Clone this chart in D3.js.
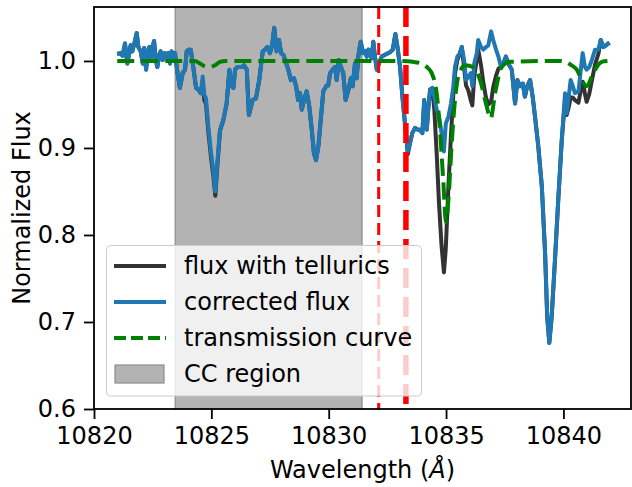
<!DOCTYPE html>
<html>
<head>
<meta charset="utf-8">
<script src="https://cdn.jsdelivr.net/npm/d3@7/dist/d3.min.js"></script>
<style>
  html, body { margin: 0; padding: 0; background: #fff; }
  svg { display: block; font-family: "DejaVu Sans", sans-serif; }
</style>
</head>
<body>
<div id="chart"></div>
<script>
// Spectrum samples (wavelength in Angstrom)
const wave = [
  10820.99, 10821.14, 10821.22, 10821.32, 10821.42, 10821.56, 10821.63, 10821.72, 10821.82, 10821.89,
  10821.99, 10822.08, 10822.14, 10822.22, 10822.29, 10822.36, 10822.42, 10822.48, 10822.56, 10822.63,
  10822.70, 10822.78, 10822.84, 10822.93, 10823.03, 10823.10, 10823.17, 10823.24, 10823.31, 10823.38,
  10823.45, 10823.55, 10823.66, 10823.78, 10823.88, 10823.95, 10824.04, 10824.12, 10824.23, 10824.35,
  10824.44, 10824.55, 10824.63, 10824.70, 10824.77, 10824.87, 10824.99, 10825.08, 10825.17, 10825.25,
  10825.37, 10825.51, 10825.65, 10825.77, 10825.84, 10825.94, 10826.01, 10826.11, 10826.29, 10826.39,
  10826.51, 10826.60, 10826.76, 10826.90, 10827.04, 10827.19, 10827.29, 10827.38, 10827.50, 10827.60,
  10827.68, 10827.78, 10827.88, 10827.97, 10828.07, 10828.17, 10828.28, 10828.39, 10828.52, 10828.61,
  10828.70, 10828.78, 10828.85, 10828.95, 10829.06, 10829.17, 10829.28, 10829.37, 10829.46, 10829.56,
  10829.66, 10829.77, 10829.89, 10829.98, 10830.06, 10830.17, 10830.27, 10830.34, 10830.43, 10830.52,
  10830.62, 10830.72, 10830.84, 10830.94, 10831.02, 10831.12, 10831.19, 10831.26, 10831.36, 10831.47,
  10831.55, 10831.62, 10831.69, 10831.76, 10831.83, 10831.90, 10831.97, 10832.05, 10832.14, 10832.26,
  10832.40, 10832.61, 10832.73, 10832.84, 10832.93, 10833.04, 10833.14, 10833.25, 10833.37, 10833.46,
  10833.56, 10833.68, 10833.79, 10833.89, 10833.99, 10834.07, 10834.18, 10834.24, 10834.32, 10834.41,
  10834.50, 10834.60, 10834.70, 10834.81, 10834.91, 10834.99, 10835.10, 10835.21, 10835.31, 10835.38,
  10835.48, 10835.59, 10835.67, 10835.77, 10835.85, 10835.95, 10836.05, 10836.12, 10836.20, 10836.31,
  10836.37, 10836.49, 10836.59, 10836.70, 10836.80, 10836.92, 10837.01, 10837.13, 10837.23, 10837.34,
  10837.44, 10837.55, 10837.65, 10837.80, 10837.94, 10838.04, 10838.15, 10838.27, 10838.36, 10838.46,
  10838.58, 10838.69, 10838.79, 10838.93, 10839.08, 10839.22, 10839.31, 10839.40, 10839.50, 10839.64,
  10839.78, 10839.93, 10840.07, 10840.14, 10840.21, 10840.31, 10840.40, 10840.49, 10840.64, 10840.71,
  10840.82, 10840.92, 10840.99, 10841.10, 10841.21, 10841.35, 10841.49, 10841.59, 10841.70, 10841.82,
  10841.96
];

// corrected flux (blue)
const fluxCorrected = [
  1.008, 1.009, 1.006, 1.020, 0.997, 1.018, 1.011, 1.020, 1.032, 1.016,
  1.011, 0.997, 1.015, 0.990, 1.009, 1.016, 1.001, 1.013, 1.023, 1.001,
  0.993, 1.007, 1.011, 1.001, 1.009, 1.005, 1.009, 0.997, 1.011, 1.001,
  1.009, 0.988, 0.969, 0.986, 0.990, 1.011, 1.013, 1.013, 0.993, 0.969,
  0.967, 0.963, 0.982, 0.961, 0.957, 0.925, 0.894, 0.875, 0.850, 0.882,
  0.921, 0.932, 0.951, 0.990, 0.972, 0.969, 0.990, 0.993, 0.993, 0.995,
  0.990, 0.938, 0.955, 0.957, 0.978, 1.011, 1.013, 1.016, 1.009, 1.020,
  1.038, 1.011, 1.024, 1.009, 1.007, 0.999, 0.990, 0.978, 0.980, 0.971,
  0.955, 0.963, 0.944, 0.955, 0.965, 0.948, 0.921, 0.894, 0.886, 0.902,
  0.932, 0.965, 0.971, 0.972, 0.986, 0.990, 0.993, 0.978, 1.001, 0.993,
  0.986, 0.955, 0.967, 0.980, 0.971, 0.997, 0.980, 1.005, 1.022, 1.009,
  1.011, 1.005, 1.013, 1.009, 1.003, 1.022, 1.005, 0.990, 0.997, 1.005,
  1.007, 1.010, 1.013, 1.031, 1.016, 0.993, 0.959, 0.928, 0.896, 0.905,
  0.917, 0.923, 0.921, 0.921, 0.917, 0.955, 0.921, 0.944, 0.967, 0.969,
  0.959, 0.944, 0.936, 0.917, 0.896, 0.928, 0.936, 0.951, 0.971, 0.993,
  1.005, 1.009, 1.016, 1.001, 0.978, 0.982, 0.986, 0.971, 0.997, 1.009,
  1.024, 1.016, 1.013, 1.016, 1.018, 1.034, 1.024, 1.013, 1.005, 0.993,
  0.997, 1.005, 0.997, 0.990, 0.951, 0.978, 0.971, 0.974, 0.959, 0.971,
  0.978, 0.959, 0.936, 0.902, 0.856, 0.779, 0.706, 0.676, 0.706, 0.771,
  0.840, 0.909, 0.963, 0.940, 0.955, 0.978, 0.971, 0.963, 0.965, 0.982,
  1.009, 0.993, 0.990, 0.993, 1.001, 1.013, 1.013, 1.024, 1.016, 1.018,
  1.021
];

// flux with tellurics (dark gray), same wavelength grid
const fluxTelluric = [
  1.008, 1.009, 1.006, 1.020, 0.997, 1.018, 1.011, 1.020, 1.032, 1.016,
  1.011, 0.997, 1.015, 0.990, 1.009, 1.016, 1.001, 1.013, 1.023, 1.001,
  0.993, 1.007, 1.011, 1.001, 1.009, 1.005, 1.009, 0.997, 1.011, 1.001,
  1.009, 0.988, 0.969, 0.986, 0.990, 1.011, 1.013, 1.013, 0.993, 0.969,
  0.967, 0.963, 0.976, 0.955, 0.951, 0.919, 0.888, 0.869, 0.845, 0.877,
  0.920, 0.932, 0.951, 0.990, 0.972, 0.969, 0.990, 0.993, 0.993, 0.995,
  0.990, 0.938, 0.955, 0.957, 0.978, 1.011, 1.013, 1.016, 1.009, 1.020,
  1.038, 1.011, 1.024, 1.009, 1.007, 0.999, 0.990, 0.978, 0.980, 0.971,
  0.955, 0.963, 0.944, 0.955, 0.965, 0.948, 0.921, 0.894, 0.886, 0.902,
  0.932, 0.965, 0.971, 0.972, 0.986, 0.990, 0.993, 0.978, 1.001, 0.993,
  0.986, 0.955, 0.967, 0.980, 0.971, 0.997, 0.980, 1.005, 1.022, 1.009,
  1.011, 1.005, 1.013, 1.009, 1.003, 1.022, 1.005, 0.990, 0.997, 1.005,
  1.007, 1.010, 1.013, 1.031, 1.016, 0.993, 0.959, 0.928, 0.893, 0.905,
  0.917, 0.923, 0.921, 0.921, 0.917, 0.955, 0.921, 0.944, 0.967, 0.969,
  0.944, 0.894, 0.836, 0.787, 0.757, 0.785, 0.856, 0.915, 0.962, 0.985,
  1.001, 1.009, 1.016, 0.992, 0.972, 0.966, 0.955, 0.949, 0.982, 1.002,
  1.013, 0.995, 0.975, 0.958, 0.950, 0.953, 0.970, 0.983, 0.991, 0.993,
  0.997, 1.005, 0.997, 0.990, 0.951, 0.978, 0.971, 0.974, 0.959, 0.971,
  0.978, 0.959, 0.936, 0.902, 0.856, 0.779, 0.706, 0.676, 0.706, 0.771,
  0.840, 0.909, 0.955, 0.938, 0.945, 0.958, 0.958, 0.955, 0.952, 0.962,
  0.976, 0.962, 0.953, 0.962, 0.977, 0.996, 1.008, 1.024, 1.016, 1.018,
  1.021
];

// telluric transmission model (green dashed)
const transWave = [
  10820.99, 10824.30, 10824.52, 10824.72, 10824.94, 10825.15, 10825.37, 10825.60,
  10833.00, 10833.59, 10833.93, 10834.18, 10834.39, 10834.53, 10834.60, 10834.74,
  10834.88, 10835.00, 10835.10, 10835.24, 10835.38, 10835.52, 10835.81, 10836.16,
  10836.45, 10836.73, 10836.90, 10837.09, 10837.37, 10837.72, 10839.86, 10840.35,
  10840.57, 10840.78, 10840.99, 10841.21, 10841.42, 10841.63, 10841.91
];
const transFlux = [
  1.000, 1.000, 0.997, 0.994, 0.993, 0.995, 0.999, 1.000,
  1.000, 0.999, 0.997, 0.993, 0.986, 0.974, 0.963, 0.921,
  0.863, 0.815, 0.840, 0.905, 0.955, 0.982, 0.995, 0.993,
  0.978, 0.948, 0.934, 0.963, 0.993, 0.999, 1.000, 0.995,
  0.990, 0.978, 0.971, 0.982, 0.993, 0.999, 1.000
];

// shaded cross-correlation window and the two marked lines
const ccRegion = [10823.46, 10831.42];
const markedLines = [10832.13, 10833.29];

const xTicks = [10820, 10825, 10830, 10835, 10840];
const yTicks = [0.6, 0.7, 0.8, 0.9, 1.0];
const legendLabels = ["flux with tellurics", "corrected flux", "transmission curve", "CC region"];

// Layout
const width = 632, height = 487;
const margin = { top: 7, right: 1, bottom: 78, left: 94 };
const fontSize = 24;
const lineWidth = 4;

const svg = d3.select("#chart").append("svg")
    .attr("width", width)
    .attr("height", height);

// Create scales
const x = d3.scaleLinear()
    .domain([10820, 10842.88])
    .range([margin.left, width - margin.right]);

const y = d3.scaleLinear()
    .domain([0.6, 1.062])
    .range([height - margin.bottom, margin.top]);

svg.append("clipPath").attr("id", "plot-clip")
    .append("rect")
    .attr("x", margin.left).attr("y", margin.top)
    .attr("width", width - margin.left - margin.right)
    .attr("height", height - margin.top - margin.bottom);

const plot = svg.append("g").attr("clip-path", "url(#plot-clip)");

// CC region span
plot.append("rect")
    .attr("x", x(ccRegion[0]))
    .attr("y", margin.top - 2)
    .attr("width", x(ccRegion[1]) - x(ccRegion[0]))
    .attr("height", height - margin.top - margin.bottom + 4)
    .attr("fill", "rgb(179,179,179)")
    .attr("stroke", "rgb(140,140,140)")
    .attr("stroke-width", 1.2);

const spectrum = values => d3.line()
    .x((d, i) => x(wave[i]))
    .y(d => y(d))(values);

plot.append("path")
    .attr("d", spectrum(fluxTelluric))
    .attr("fill", "none")
    .attr("stroke", "#333333")
    .attr("stroke-width", lineWidth)
    .attr("stroke-linejoin", "round");

plot.append("path")
    .attr("d", spectrum(fluxCorrected))
    .attr("fill", "none")
    .attr("stroke", "#1f77b4")
    .attr("stroke-width", lineWidth)
    .attr("stroke-linejoin", "round");

const transLine = d3.line()
    .x((d, i) => x(transWave[i]))
    .y(d => y(d))
    .curve(d3.curveMonotoneX);

plot.append("path")
    .attr("d", transLine(transFlux))
    .attr("fill", "none")
    .attr("stroke", "green")
    .attr("stroke-width", lineWidth)
    .attr("stroke-dasharray", "17,7");

// vertical marker lines: thin first, thick second
const markerStyle = [{ w: 3, dash: "12,6" }, { w: 5.5, dash: "20,9" }];
markedLines.forEach((wl, i) => {
    plot.append("line")
        .attr("x1", x(wl)).attr("x2", x(wl))
        .attr("y1", margin.top).attr("y2", height - margin.bottom)
        .attr("stroke", "red")
        .attr("stroke-width", markerStyle[i].w)
        .attr("stroke-dasharray", markerStyle[i].dash);
});

// Create axes
const xAxis = svg.append("g")
    .attr("transform", `translate(0,${height - margin.bottom})`)
    .call(d3.axisBottom(x).tickValues(xTicks).tickSize(10).tickPadding(8).tickFormat(d3.format("d")));

const yAxis = svg.append("g")
    .attr("transform", `translate(${margin.left},0)`)
    .call(d3.axisLeft(y).tickValues(yTicks).tickSize(10).tickPadding(8).tickFormat(d3.format(".1f")));

[xAxis, yAxis].forEach(g => {
    g.select(".domain").remove();
    g.selectAll(".tick line").attr("stroke", "#000").attr("stroke-width", 1.8);
    g.selectAll(".tick text")
        .attr("fill", "#000")
        .style("font-size", fontSize + "px")
        .style("font-family", "DejaVu Sans, sans-serif");
});

// frame
svg.append("rect")
    .attr("x", margin.left).attr("y", margin.top)
    .attr("width", width - margin.left - margin.right)
    .attr("height", height - margin.top - margin.bottom)
    .attr("fill", "none")
    .attr("stroke", "#000")
    .attr("stroke-width", 1.8);

// Axis labels
const xLabel = svg.append("text")
    .attr("x", (margin.left + width - margin.right) / 2)
    .attr("y", 478)
    .attr("text-anchor", "middle")
    .style("font-size", fontSize + "px");
xLabel.append("tspan").text("Wavelength (");
xLabel.append("tspan").style("font-style", "italic").text("Å");
xLabel.append("tspan").text(")");

svg.append("text")
    .attr("transform", `translate(30,${(margin.top + height - margin.bottom) / 2}) rotate(-90)`)
    .attr("text-anchor", "middle")
    .style("font-size", fontSize + "px")
    .text("Normalized Flux");

// Add legend
const legend = svg.append("g");

legend.append("rect")
    .attr("x", 106.5).attr("y", 245.5)
    .attr("width", 315).attr("height", 150.5)
    .attr("rx", 4)
    .attr("fill", "#fff").attr("fill-opacity", 0.8)
    .attr("stroke", "#cccccc").attr("stroke-width", 1);

const rowY = [266, 302, 338, 374];
const sampleX = [114, 166];

legend.append("line")
    .attr("x1", sampleX[0]).attr("x2", sampleX[1]).attr("y1", rowY[0]).attr("y2", rowY[0])
    .attr("stroke", "#333333").attr("stroke-width", lineWidth);
legend.append("line")
    .attr("x1", sampleX[0]).attr("x2", sampleX[1]).attr("y1", rowY[1]).attr("y2", rowY[1])
    .attr("stroke", "#1f77b4").attr("stroke-width", lineWidth);
legend.append("line")
    .attr("x1", sampleX[0]).attr("x2", sampleX[1]).attr("y1", rowY[2]).attr("y2", rowY[2])
    .attr("stroke", "green").attr("stroke-width", lineWidth).attr("stroke-dasharray", "12,5");
legend.append("rect")
    .attr("x", 115).attr("y", rowY[3] - 9)
    .attr("width", 49).attr("height", 18)
    .attr("fill", "rgb(179,179,179)")
    .attr("stroke", "rgb(140,140,140)").attr("stroke-width", 1.2);

legend.selectAll("text.label")
    .data(legendLabels)
    .enter().append("text")
    .attr("class", "label")
    .attr("x", 184)
    .attr("y", (d, i) => rowY[i])
    .attr("dy", "0.35em")
    .style("font-size", fontSize + "px")
    .text(d => d);
</script>
</body>
</html>
